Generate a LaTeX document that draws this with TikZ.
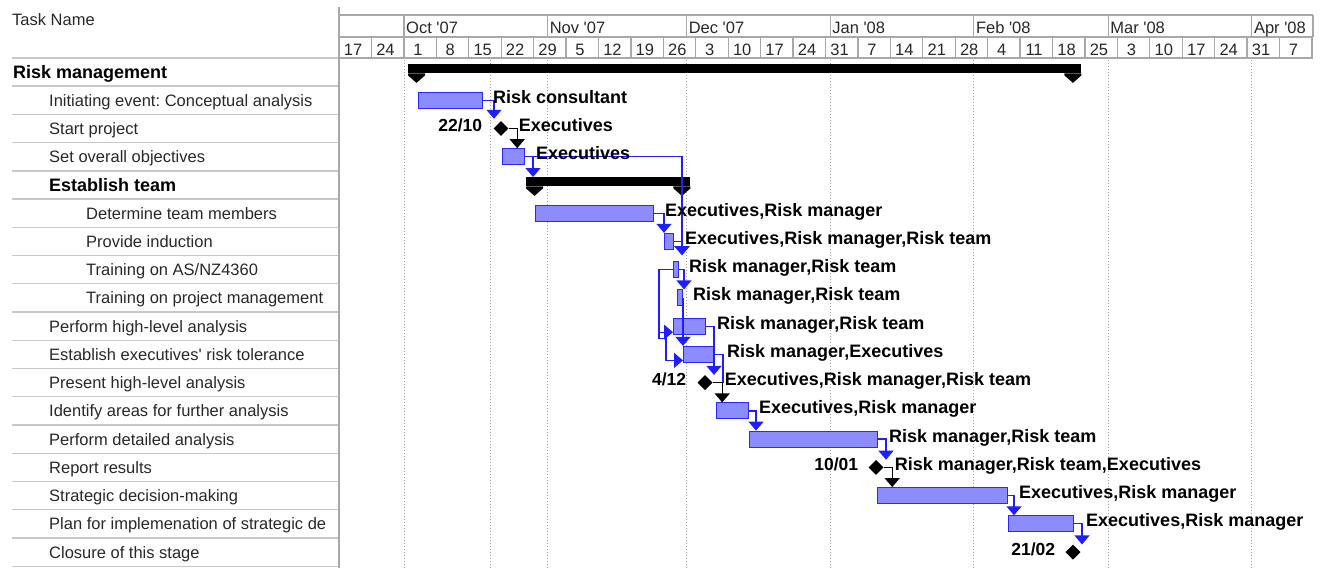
\documentclass[tikz,border=0pt]{standalone}
\usepackage{fontspec}
\setmainfont{Liberation Sans}
\usetikzlibrary{arrows.meta,shapes.geometric,calc}
\frenchspacing

\definecolor{gridgray}{RGB}{168,168,168}
\definecolor{rowgray}{RGB}{200,200,200}
\definecolor{dotgray}{RGB}{165,165,165}
\definecolor{linkblue}{RGB}{30,30,255}
\definecolor{barfill}{RGB}{140,140,252}
\definecolor{barline}{RGB}{40,40,255}
\definecolor{txtgray}{RGB}{40,40,40}

% bar between two x positions on a row
\newcommand\ganttbar[4]{\node[taskbar,minimum width={#3-#2}] (#1) at (#2,#4) {};}
% summary bar with its two end caps
\newcommand\summarybar[4]{%
  \node[sumbar,minimum width={#3-#2}] (#1) at (#2,#4-8) {};
  \fill (#1.south west) -- ++(0,2) -- ++(8.5,7.5) -- ++(8.5,-7.5) -- ++(0,-2) -- cycle;
  \fill (#1.south east) -- ++(0,2) -- ++(-8.5,7.5) -- ++(-8.5,-7.5) -- ++(0,-2) -- cycle;}
% resource label to the right of a bar or milestone
\newcommand\reslabel[4]{\node[res] (#1) at ($(#2.east)+(#3,3)$) {#4};}

\begin{document}
\begin{tikzpicture}[x=1pt,y=-1pt,
  font=\fontsize{16.5}{18}\selectfont,
  gridline/.style={draw=gridgray,line width=1.3pt},
  rowline/.style={draw=rowgray,line width=1.3pt},
  timeline/.style={draw=dotgray,line width=0.9pt,dash pattern=on 1.4pt off 1.6pt},
  taskname/.style={anchor=base west,inner sep=0pt,text=txtgray},
  sumname/.style={anchor=base west,inner sep=0pt,font=\fontsize{18}{20}\selectfont\bfseries},
  hdr/.style={anchor=base west,inner sep=0pt,text=txtgray},
  weeklbl/.style={anchor=base,inner sep=0pt,text=txtgray},
  taskbar/.style={rectangle,draw=barline,fill=barfill,line width=1pt,minimum height=16pt,inner sep=0pt,anchor=west},
  sumbar/.style={rectangle,fill=black,minimum height=9pt,inner sep=0pt,anchor=north west},
  mstone/.style={diamond,fill=black,minimum width=15pt,minimum height=15pt,inner sep=0pt},
  res/.style={anchor=base west,inner sep=0pt,font=\fontsize{18}{20}\selectfont\bfseries},
  datelbl/.style={anchor=base east,inner sep=0pt,font=\fontsize{17.5}{20}\selectfont\bfseries},
  link/.style={draw=linkblue,line width=1.3pt,-{Triangle[width=15pt,length=9pt]}},
  plainlink/.style={draw=linkblue,line width=1.3pt},
  mlink/.style={draw=black,line width=1.3pt,-{Triangle[width=15pt,length=9pt]}},
]
\useasboundingbox (0,0) rectangle (1322,568);

% ---------- task table ----------
\node[taskname] (taskhdr) at (12,25) {Task Name};
\draw[rowline] (12,58) -- (339,58);
\foreach \yy in {86.1,114.4,142.6,170.9,199.1,227.3,255.6,283.8,312.1,340.3,368.5,396.8,425.0,453.3,481.5,509.7,538.0,566.2}
  \draw[rowline] (12,\yy) -- (339,\yy);

\node[sumname]  (n0)  at (13,78)   {Risk management};
\node[taskname] (n1)  at (49,106.2) {Initiating event: Conceptual analysis};
\node[taskname] (n2)  at (49,134.5) {Start project};
\node[taskname] (n3)  at (49,162.7) {Set overall objectives};
\node[sumname]  (n4)  at (49,191.0) {Establish team};
\node[taskname] (n5)  at (86,219.2) {Determine team members};
\node[taskname] (n6)  at (86,247.4) {Provide induction};
\node[taskname] (n7)  at (86,275.7) {Training on AS/NZ4360};
\node[taskname] (n8)  at (86,303.9) {Training on project management};
\node[taskname] (n9)  at (49,332.2) {Perform high-level analysis};
\node[taskname] (n10) at (49,360.4) {Establish executives\textquotesingle{} risk tolerance};
\node[taskname] (n11) at (49,388.6) {Present high-level analysis};
\node[taskname] (n12) at (49,416.9) {Identify areas for further analysis};
\node[taskname] (n13) at (49,445.1) {Perform detailed analysis};
\node[taskname] (n14) at (49,473.4) {Report results};
\node[taskname] (n15) at (49,501.6) {Strategic decision-making};
\node[taskname] (n16) at (49,529.8) {Plan for implemenation of strategic de};
\node[taskname] (n17) at (49,558.1) {Closure of this stage};

% ---------- timescale ----------
\draw[gridline] (339,7) -- (339,568);
\draw[gridline] (339,15) -- (1313,15);
\draw[gridline] (339,37) -- (1313,37);
\draw[gridline] (339,58) -- (1313,58);
\foreach \mx in {404,547.6,686.6,830.2,973.8,1108.2,1251.8,1313}
  \draw[gridline] (\mx,15) -- (\mx,37);
\foreach \k in {1,...,30}
  \draw[gridline] (339+\k*32.433,37) -- (339+\k*32.433,58);

\node[hdr] (moct) at (406,33)    {Oct \textquotesingle 07};
\node[hdr] (mnov) at (549.6,33)  {Nov \textquotesingle 07};
\node[hdr] (mdec) at (688.6,33)  {Dec \textquotesingle 07};
\node[hdr] (mjan) at (832.2,33)  {Jan \textquotesingle 08};
\node[hdr] (mfeb) at (975.8,33)  {Feb \textquotesingle 08};
\node[hdr] (mmar) at (1110.2,33) {Mar \textquotesingle 08};
\node[hdr] (mapr) at (1253.8,33) {Apr \textquotesingle 08};

\foreach [count=\i from 0] \w in {17,24,1,8,15,22,29,5,12,19,26,3,10,17,24,31,7,14,21,28,4,11,18,25,3,10,17,24,31,7}
  \node[weeklbl] (wk\i) at (339+\i*32.433+14,55) {\w};

% month boundaries and status date
\foreach \mx in {404,490,547.6,686.6,830.2,973.8,1108.2,1251.8}
  \draw[timeline] (\mx,60) -- (\mx,568);

% ---------- bars ----------
\summarybar{s0}{408}{1081}{72.0}
\summarybar{s4}{526}{690}{185.0}

\ganttbar{b1}{418}{482}{100.2}
\ganttbar{b3}{502}{524}{156.7}
\ganttbar{b5}{535}{653}{213.2}
\ganttbar{b6}{664}{673}{241.4}
\ganttbar{b7}{673}{678}{269.7}
\ganttbar{b8}{677}{682}{297.9}
\ganttbar{b9}{673}{705}{326.2}
\ganttbar{b10}{683}{714}{354.4}
\ganttbar{b12}{716}{748}{410.9}
\ganttbar{b13}{749}{877}{439.1}
\ganttbar{b15}{877}{1007}{495.6}
\ganttbar{b16}{1008}{1073}{523.8}

\node[mstone] (m2)  at (501,128.5)  {};
\node[mstone] (m11) at (705,382.6)  {};
\node[mstone] (m14) at (876,467.4)  {};
\node[mstone] (m17) at (1073,552.1) {};

% entry points on the left side of two bars
\coordinate (p9)  at ([yshift=-6pt]b9.west);
\coordinate (p10) at ([yshift=-6pt]b10.west);

% ---------- dependencies ----------
\draw[link,shorten >=2pt] (b1.east) -- ++(11,0) coordinate (j1) -- (j1 |- m2.north);
\draw[mlink] (m2.east) -- ++(8.5,0) coordinate (j2) -- (j2 |- b3.north);
\draw[link] (b3.east) -- ++(8,0) coordinate (j3) -- (j3 |- s4.north);
\draw[link,shorten >=6pt] (b3.east) -- ++(157,0) coordinate (j4) -- (j4 |- b7.north);
\draw[link] (b5.east) -- ++(10,0) coordinate (j5) -- (j5 |- b6.north);
\draw[link,shorten >=6pt] (b6.east) -- ++(8,0) coordinate (j6) -- (j6 |- b7.north);
\draw[link] (b7.east) -- ++(5,0) coordinate (j7) -- (j7 |- b8.north);
\draw[link] (b8.east) -- (b8.east |- b10.north);
\draw[link] (b7.west) -- ++(-14,0) coordinate (j8) -- (j8 |- p9) -- (p9);
\draw[link] (j8 |- p9) -- ++(0,6) -- ++(7,0) coordinate (j9) -- (j9 |- p10) -- (p10);
\draw[link] (b9.east) -- ++(8,0) coordinate (j10) -- (j10 |- m11.north);
\draw[plainlink] (b10.east) -- ++(8,0) coordinate (j11) -- (j11 |- m11.east);
\draw[mlink] (m11.east) -- ++(9.5,0) coordinate (j12) -- (j12 |- b12.north);
\draw[link] (b12.east) -- ++(7,0) coordinate (j13) -- (j13 |- b13.north);
\draw[link] (b13.east) -- ++(8,0) coordinate (j14) -- (j14 |- m14.north);
\draw[mlink] (m14.east) -- ++(8.5,0) coordinate (j15) -- (j15 |- b15.north);
\draw[link] (b15.east) -- ++(6,0) coordinate (j16) -- (j16 |- b16.north);
\draw[link] (b16.east) -- ++(8,0) coordinate (j17) -- (j17 |- m17.north);

% ---------- resource and date labels ----------
\reslabel{r1}{b1}{10}{Risk consultant}
\reslabel{r2}{m2}{10}{Executives}
\reslabel{r3}{b3}{11}{Executives}
\reslabel{r5}{b5}{11}{Executives,Risk manager}
\reslabel{r6}{b6}{11}{Executives,Risk manager,Risk team}
\reslabel{r7}{b7}{10}{Risk manager,Risk team}
\reslabel{r8}{b8}{10}{Risk manager,Risk team}
\reslabel{r9}{b9}{11}{Risk manager,Risk team}
\reslabel{r10}{b10}{12}{Risk manager,Executives}
\reslabel{r11}{m11}{12}{Executives,Risk manager,Risk team}
\reslabel{r12}{b12}{10}{Executives,Risk manager}
\reslabel{r13}{b13}{11}{Risk manager,Risk team}
\reslabel{r14}{m14}{11}{Risk manager,Risk team,Executives}
\reslabel{r15}{b15}{11}{Executives,Risk manager}
\reslabel{r16}{b16}{12}{Executives,Risk manager}

\node[datelbl] (d2)  at ($(m2.west)+(-11,3)$)  {22/10};
\node[datelbl] (d11) at ($(m11.west)+(-11,3)$) {4/12};
\node[datelbl] (d14) at ($(m14.west)+(-10,3)$) {10/01};
\node[datelbl] (d17) at ($(m17.west)+(-10,3)$) {21/02};
\end{tikzpicture}
\end{document}
